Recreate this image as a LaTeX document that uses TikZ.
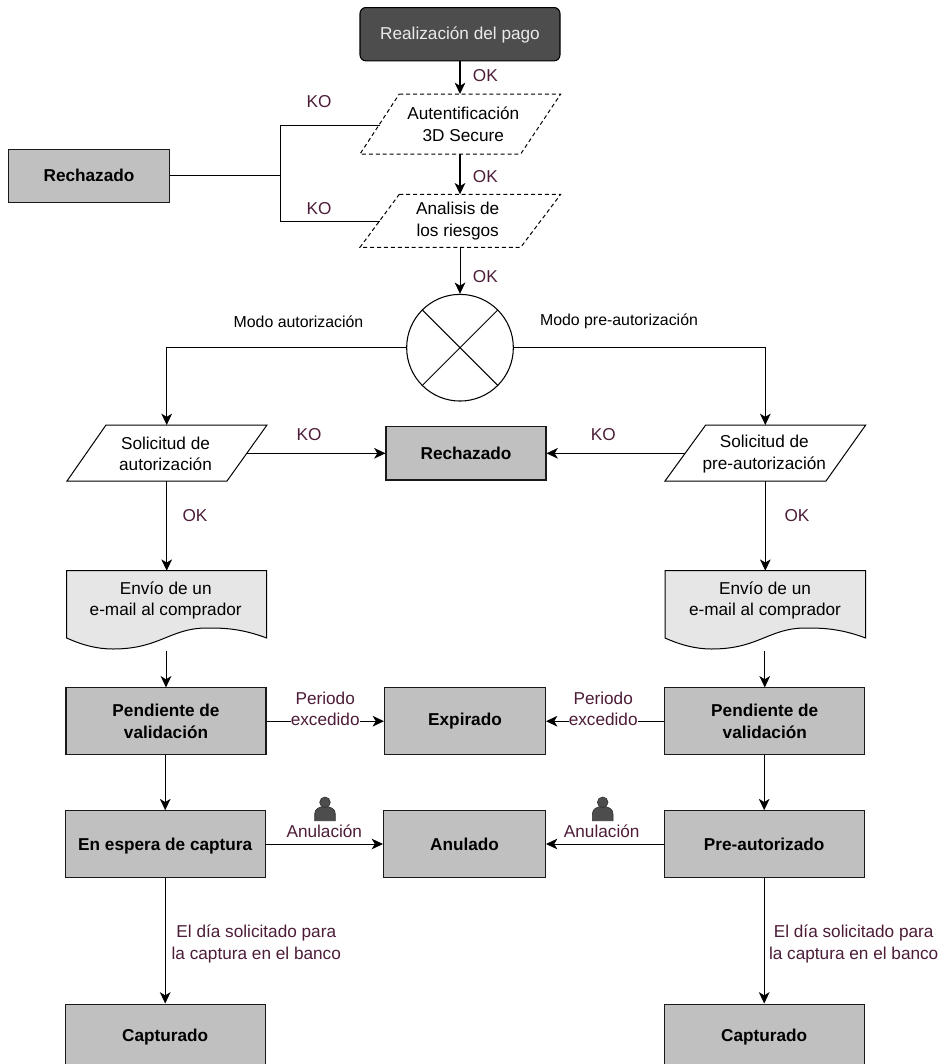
\documentclass[tikz,border=0pt]{standalone}
\usepackage{fontspec}
\setmainfont{Liberation Sans}
\usetikzlibrary{arrows.meta,calc}
\definecolor{lab}{HTML}{4C1C38}
\definecolor{boxgray}{HTML}{C0C0C0}
\definecolor{docgray}{HTML}{E6E6E6}
\definecolor{dark}{HTML}{4D4D4D}
\newcommand{\mainsz}{\fontsize{12.9}{16.2}\selectfont}
\newcommand{\smallsz}{\fontsize{11.9}{14.6}\selectfont}
\tikzset{
  x=0.75pt,y=-0.75pt,
  base/.style={align=center,inner sep=0pt,font=\mainsz},
  statebox/.style={base,draw=black!90,line width=0.8pt,fill=boxgray,font=\mainsz\bfseries,minimum width=#1*0.75pt,minimum height=49.9pt},
  statebox/.default=200,
  plain/.style={base},
  lbl/.style={base,text=lab},
  lblw/.style={base,text=lab,fill=white},
  conn/.style={draw=black,line width=0.75pt,-{Stealth[length=8.5pt,width=8pt,inset=2.4pt]}},
  connb/.style={draw=black,line width=1.15pt,-{Stealth[length=8.5pt,width=8pt,inset=2.4pt]}},
  line/.style={draw=black,line width=0.75pt},
  para/.style={draw=black,line width=0.75pt,fill=white},
  person/.style={draw=black!80,line width=0.5pt,fill=dark}
}
\begin{document}
\begin{tikzpicture}
\useasboundingbox (0,0) rectangle (944,1064);
% start
\node[base,draw=black,line width=0.8pt,fill=dark,text=white!92!black,rounded corners=4.5pt,minimum width=150pt,minimum height=40pt] (start) at (460,34.2) {\raisebox{-4pt}[0pt][0pt]{Realización del pago}};
% dashed parallelograms
\draw[para,dash pattern=on 3pt off 2.2pt] (399.3,94) -- (560.7,94) -- (520.7,154) -- (360,154) -- cycle;
\node[plain,minimum width=100pt,minimum height=40pt] (auth) at (463.3,124.2) {Autentificación\\3D Secure};
\draw[para,dash pattern=on 3pt off 2.2pt] (399.3,194.3) -- (560.7,194.3) -- (520.7,247.3) -- (360,247.3) -- cycle;
\node[plain,minimum width=100pt,minimum height=38pt] (ries) at (457.7,221.2) {Analisis de\\los riesgos};
\coordinate (authL) at (380,125.3);
\coordinate (riesL) at (380,221);
% gateway
\node[draw=black,line width=0.8pt,fill=white,circle,minimum size=80pt,inner sep=0pt] (gw) at (460,347.7) {};
\draw[line] (gw.north west) -- (gw.south east) (gw.north east) -- (gw.south west);
% reject top
\node[statebox=160.6,minimum height=40pt] (rechT) at (89,175.7) {Rechazado};
\coordinate (junc) at (280,175.7);
% solicitudes
\draw[para] (106,425) -- (267,425) -- (227,481) -- (67,481) -- cycle;
\node[plain,minimum width=105pt,minimum height=39.75pt] (solA) at (165.5,454) {Solicitud de\\autorización};
\draw[para] (705.7,425) -- (865.7,425) -- (826,481) -- (665,481) -- cycle;
\node[plain,minimum width=112pt,minimum height=39.75pt] (solP) at (764.3,454) {Solicitud de\\pre-autorización};
\node[statebox=160,minimum height=40pt] (rechC) at (466,453.3) {Rechazado};
% documents
\draw[line,fill=docgray] (66.7,570.7) -- (266.7,570.7) -- (266.7,638) .. controls (240,628) and (222,628) .. (207,628) .. controls (170,628) and (160,649) .. (113,649) .. controls (97,649) and (82,645) .. (66.7,638) -- cycle;
\node[plain,minimum width=150pt,minimum height=42.75pt] (docA) at (165.7,600.3) {Envío de un\\e-mail al comprador};
\coordinate (docAb) at (166,650.7);
\draw[line,fill=docgray] (665,570.7) -- (865.7,570.7) -- (865.7,638) .. controls (838.7,628) and (820.7,628) .. (805.7,628) .. controls (768.7,628) and (758.7,649) .. (711.7,649) .. controls (695.7,649) and (680.7,645) .. (665,638) -- cycle;
\node[plain,minimum width=150pt,minimum height=42.75pt] (docP) at (765,600.3) {Envío de un\\e-mail al comprador};
\coordinate (docPb) at (764.75,650.7);
% state boxes
\node[statebox] (pendA) at (166,721.2) {Pendiente de\\validación};
\node[statebox=161] (expi) at (465,721.2) {Expirado};
\node[statebox] (pendP) at (764.75,721.2) {Pendiente de\\validación};
\node[statebox] (espe) at (165.2,844) {\raisebox{-4.6pt}[0pt][0pt]{En espera de captura}};
\node[statebox=162] (anul) at (464.5,844) {Anulado};
\node[statebox] (prea) at (764.2,844) {Pre-autorizado};
\node[statebox] (captA) at (165.2,1037.3) {\raisebox{-3.1pt}[0pt][0pt]{Capturado}};
\node[statebox] (captP) at (764.2,1037.3) {\raisebox{-3.1pt}[0pt][0pt]{Capturado}};
% connectors
\coordinate (authT) at (460,94);
\coordinate (authB) at (460,154);
\coordinate (riesT) at (460,194.3);
\coordinate (riesB) at (460,247.3);
\draw[connb] (start) -- (authT);
\draw[connb] (authB) -- (riesT);
\draw[conn] (riesB) -- (gw.north);
\draw[line] (rechT.east) -- (junc);
\draw[line] (authL) -| (junc);
\draw[line] (riesL) -| (junc);
\coordinate (solAT) at (166.7,425);
\coordinate (solAB) at (166.7,481);
\coordinate (solPT) at (765.3,425);
\coordinate (solPB) at (765.3,481);
\coordinate (solAR) at (247,453.3);
\coordinate (solPL) at (685,453.3);
\coordinate (docAT) at (166.7,570.7);
\coordinate (docPT) at (765.3,570.7);
\draw[conn] (gw.west) -| (solAT);
\draw[conn] (gw.east) -| (solPT);
\draw[conn] (solAR) -- (rechC.west);
\draw[conn] (solPL) -- (rechC.east);
\draw[conn] (solAB) -- (docAT);
\draw[conn] (solPB) -- (docPT);
\draw[conn] (docAb) -- (pendA.north);
\draw[conn] (docPb) -- (pendP.north);
\draw[conn] (pendA.east) -- (expi.west);
\draw[conn] (pendP.west) -- (expi.east);
\draw[conn] (espe.north |- pendA.south) -- (espe.north);
\draw[conn] (prea.north |- pendP.south) -- (prea.north);
\draw[conn] (espe.east) -- (anul.west);
\draw[conn] (prea.west) -- (anul.east);
\draw[conn] (espe.south) -- (captA.north);
\draw[conn] (prea.south) -- (captP.north);
% labels
\node[lbl] (l1) at (485.3,76) {OK};
\node[lbl] (l2) at (485.3,177) {OK};
\node[lbl] (l3) at (485.3,277) {OK};
\node[lbl] (l4) at (319,101.5) {KO};
\node[lbl] (l5) at (319,209) {KO};
\node[base,font=\smallsz] (m1) at (298.5,321.7) {Modo autorización};
\node[base,font=\smallsz] (m2) at (619,321.7) {Modo pre-autorización};
\node[lbl] (l6) at (309,435) {KO};
\node[lbl] (l7) at (603.3,435) {KO};
\node[lbl] (l8) at (195,516) {OK};
\node[lbl] (l9) at (797,516) {OK};
\node[lblw] (p1) at (325.2,709) {Periodo\hspace{2.6pt}\\excedido\hspace{2.6pt}};
\node[lblw] (p2) at (603.2,709) {Periodo\hspace{2.6pt}\\excedido\hspace{2.6pt}};
\node[lbl] (a1) at (324.3,831.5) {Anulación};
\node[lbl] (a2) at (601.7,831.5) {Anulación};
\node[lblw] (c1) at (256.3,943.7) {El día solicitado para\\la captura en el banco};
\node[lblw] (c2) at (853.7,943.7) {El día solicitado para\\la captura en el banco};
% person icons
\foreach \px/\nm in {325/ua,602.7/ub}{
  \draw[person] (\px-10.3,820.7) -- (\px-10.3,814) .. controls (\px-10.3,809) and (\px-6,806.5) .. (\px,806.5) .. controls (\px+6,806.5) and (\px+10.3,809) .. (\px+10.3,814) -- (\px+10.3,820.7) -- cycle;
  \draw[person] (\px,802.3) circle[radius=5.3];
}
\end{tikzpicture}
\end{document}
